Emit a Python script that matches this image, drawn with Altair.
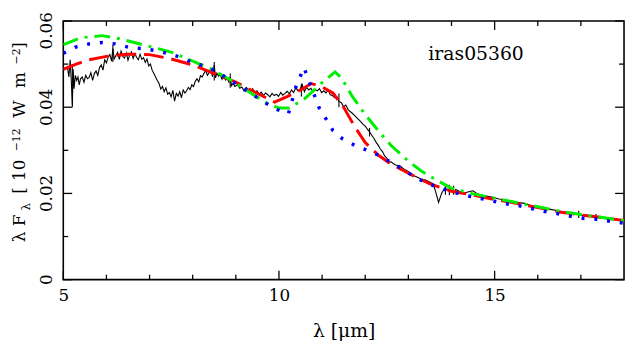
import altair as alt
import pandas as pd

# ---------------- data ----------------
obs_wave_a = [5.10, 5.13, 5.16, 5.19, 5.21, 5.23, 5.25, 5.28, 5.31, 5.34, 5.37, 5.40, 5.44, 5.48, 5.52, 5.56,
              5.60, 5.64, 5.68, 5.72, 5.76, 5.80, 5.84, 5.88, 5.92, 5.96, 6.00, 6.04, 6.08, 6.12, 6.15, 6.18,
              6.22, 6.26, 6.30, 6.34, 6.38, 6.42, 6.46, 6.50, 6.54, 6.58, 6.62, 6.66, 6.70, 6.74, 6.78, 6.82,
              6.86, 6.90, 6.94, 6.98]
obs_flux_a = [0.0490, 0.0470, 0.0510, 0.0452, 0.0405, 0.0488, 0.0443, 0.0474, 0.0462, 0.0470, 0.0452, 0.0466,
              0.0470, 0.0458, 0.0474, 0.0466, 0.0469, 0.0480, 0.0462, 0.0478, 0.0484, 0.0474, 0.0492, 0.0498,
              0.0486, 0.0510, 0.0503, 0.0516, 0.0522, 0.0507, 0.0536, 0.0512, 0.0520, 0.0527, 0.0511, 0.0530,
              0.0518, 0.0514, 0.0526, 0.0509, 0.0521, 0.0528, 0.0513, 0.0524, 0.0516, 0.0510, 0.0523, 0.0511,
              0.0515, 0.0504, 0.0512, 0.0496]

obs_wave_b = [7.02, 7.06, 7.10, 7.14, 7.18, 7.22, 7.26, 7.30, 7.34, 7.38, 7.42, 7.46, 7.50, 7.54, 7.58, 7.62,
              7.66, 7.70, 7.74, 7.78, 7.82, 7.86, 7.90, 7.94, 7.98, 8.02, 8.06, 8.10, 8.14, 8.18, 8.22, 8.26,
              8.30, 8.34, 8.38, 8.42, 8.46, 8.50, 8.53, 8.56, 8.60, 8.64, 8.68, 8.72, 8.76, 8.80, 8.84, 8.87,
              8.90, 8.94, 8.98]
obs_flux_b = [0.0500, 0.0486, 0.0478, 0.0470, 0.0462, 0.0455, 0.0442, 0.0448, 0.0436, 0.0445, 0.0430, 0.0434,
              0.0424, 0.0439, 0.0414, 0.0432, 0.0426, 0.0436, 0.0422, 0.0440, 0.0433, 0.0438, 0.0446, 0.0441,
              0.0452, 0.0448, 0.0460, 0.0466, 0.0459, 0.0473, 0.0470, 0.0478, 0.0486, 0.0474, 0.0480, 0.0485,
              0.0471, 0.0498, 0.0468, 0.0479, 0.0472, 0.0476, 0.0465, 0.0474, 0.0463, 0.0467, 0.0458, 0.0470,
              0.0450, 0.0455, 0.0448]

obs_wave_c = [9.04, 9.09, 9.14, 9.19, 9.24, 9.29, 9.34, 9.39, 9.44, 9.49, 9.54, 9.59, 9.64, 9.69, 9.74, 9.79,
              9.84, 9.89, 9.94, 9.99, 10.04, 10.09, 10.14, 10.19, 10.24, 10.29, 10.34, 10.39, 10.44, 10.49,
              10.54, 10.59, 10.64, 10.69, 10.74, 10.79, 10.84, 10.89, 10.94, 10.99, 11.04, 11.09, 11.14, 11.19,
              11.24, 11.29, 11.34, 11.39]
obs_flux_c = [0.0452, 0.0444, 0.0447, 0.0438, 0.0446, 0.0441, 0.0436, 0.0443, 0.0434, 0.0438, 0.0430, 0.0435,
              0.0427, 0.0433, 0.0429, 0.0424, 0.0432, 0.0427, 0.0430, 0.0425, 0.0434, 0.0428, 0.0432, 0.0437,
              0.0431, 0.0440, 0.0434, 0.0445, 0.0438, 0.0442, 0.0452, 0.0436, 0.0446, 0.0440, 0.0444, 0.0435,
              0.0441, 0.0438, 0.0443, 0.0434, 0.0438, 0.0433, 0.0440, 0.0429, 0.0427, 0.0422, 0.0424, 0.0414]

obs_wave_d = [11.45, 11.50, 11.55, 11.60, 11.65, 11.70, 11.75, 11.80, 11.85, 11.90, 11.95, 12.00, 12.05, 12.10,
              12.15, 12.20, 12.25, 12.30, 12.35, 12.40, 12.45, 12.50, 12.55, 12.60, 12.70, 12.80, 12.90, 13.00,
              13.10, 13.20, 13.30, 13.40, 13.50, 13.58, 13.63, 13.70, 13.77, 13.84, 13.90, 13.95, 14.00, 14.05,
              14.10, 14.20, 14.30, 14.40, 14.50, 14.60, 14.70, 14.80, 14.90, 15.00, 15.10, 15.20, 15.30, 15.40,
              15.50, 15.60, 15.70, 15.80, 15.90, 16.00, 16.10, 16.20, 16.30, 16.40, 16.50, 16.60, 16.70, 16.80,
              16.90, 17.00, 17.10, 17.20, 17.30, 17.40, 17.50, 17.60, 17.70, 17.80, 17.90, 18.00]
obs_flux_d = [0.0410, 0.0401, 0.0405, 0.0395, 0.0390, 0.0386, 0.0381, 0.0376, 0.0371, 0.0366, 0.0360, 0.0356,
              0.0349, 0.0343, 0.0335, 0.0328, 0.0319, 0.0312, 0.0303, 0.0297, 0.0287, 0.0282, 0.0274, 0.0273,
              0.0266, 0.0264, 0.0256, 0.0251, 0.0242, 0.0238, 0.0233, 0.0231, 0.0226, 0.0222, 0.0205, 0.0179,
              0.0200, 0.0212, 0.0208, 0.0205, 0.0213, 0.0201, 0.0209, 0.0204, 0.0201, 0.0204, 0.0206, 0.0199,
              0.0196, 0.0194, 0.0192, 0.0190, 0.0187, 0.0186, 0.0183, 0.0181, 0.0180, 0.0178, 0.0177, 0.0173,
              0.0171, 0.0169, 0.0168, 0.0165, 0.0163, 0.0161, 0.0159, 0.0157, 0.0155, 0.0154, 0.0152, 0.0150,
              0.0148, 0.0147, 0.0146, 0.0144, 0.0143, 0.0141, 0.0140, 0.0139, 0.0137, 0.0135]

# short vertical error bars on the spectrum
err_wave = [5.21, 6.15, 8.50, 8.87, 10.52, 11.39, 12.10, 13.86, 13.95, 14.05, 16.95, 17.35]
err_lo = [0.0400, 0.0505, 0.0462, 0.0445, 0.0425, 0.0400, 0.0332, 0.0197, 0.0196, 0.0197, 0.0143, 0.0140]
err_hi = [0.0500, 0.0545, 0.0505, 0.0478, 0.0455, 0.0432, 0.0352, 0.0222, 0.0220, 0.0218, 0.0160, 0.0152]

# model 1 (red, dashed)
red_wave = [5.0, 5.3, 5.6, 6.0, 6.5, 7.0, 7.5, 8.0, 8.5, 9.0, 9.5, 9.9, 10.2, 10.5, 10.75, 11.0, 11.25,
            11.5, 11.75, 12.0, 12.3, 12.6, 13.0, 13.5, 14.0, 14.5, 15.0, 15.5, 16.0, 16.5, 17.0, 17.5, 18.0]
red_flux = [0.0488, 0.0500, 0.0510, 0.0518, 0.0523, 0.0522, 0.0512, 0.0498, 0.0478, 0.0458, 0.0432, 0.0412,
            0.0425, 0.0440, 0.0455, 0.0447, 0.0433, 0.0400, 0.0356, 0.0318, 0.0289, 0.0268, 0.0247, 0.0222,
            0.0205, 0.0196, 0.0186, 0.0177, 0.0167, 0.0157, 0.0150, 0.0144, 0.0137]

# model 2 (green, dash-dot)
green_wave = [5.0, 5.4, 5.9, 6.3, 6.8, 7.2, 7.5, 8.0, 8.4, 8.9, 9.3, 9.7, 10.0, 10.24, 10.6, 11.0, 11.3,
              11.45, 11.7, 12.0, 12.3, 12.6, 13.0, 13.3, 13.6, 14.0, 14.5, 15.0, 15.5, 16.0, 16.5, 17.0,
              17.5, 18.0]
green_flux = [0.0545, 0.0561, 0.0566, 0.0559, 0.0546, 0.0536, 0.0528, 0.0507, 0.0490, 0.0462, 0.0436, 0.0410,
              0.0398, 0.0398, 0.0420, 0.0457, 0.0482, 0.0468, 0.0425, 0.0383, 0.0346, 0.0311, 0.0275, 0.0252,
              0.0234, 0.0212, 0.0199, 0.0189, 0.0179, 0.0169, 0.0159, 0.0151, 0.0144, 0.0137]

# model 3 (blue, dotted)
blue_wave = [5.0, 5.3, 5.6, 5.9, 6.2, 6.55, 6.85, 7.15, 7.45, 7.75, 8.05, 8.34, 8.8, 9.19, 9.44, 9.69, 9.97,
             10.22, 10.4, 10.58, 10.7, 10.93, 11.09, 11.25, 11.48, 11.75, 12.05, 12.3, 12.6, 12.87, 13.15,
             13.42, 13.67, 14.0, 14.29, 14.59, 14.93, 15.25, 15.55, 15.85, 16.17, 16.47, 16.76, 17.08, 17.38,
             17.68, 18.0]
blue_flux = [0.0525, 0.0540, 0.0547, 0.0550, 0.0547, 0.0538, 0.0536, 0.0531, 0.0524, 0.0515, 0.0501, 0.0495,
             0.0468, 0.0442, 0.0426, 0.0410, 0.0394, 0.0385, 0.0449, 0.0492, 0.0460, 0.0399, 0.0373, 0.0346,
             0.0326, 0.0312, 0.0300, 0.0289, 0.0272, 0.0256, 0.0238, 0.0224, 0.0215, 0.0204, 0.0196, 0.0190,
             0.0183, 0.0176, 0.0172, 0.0165, 0.0158, 0.0153, 0.0147, 0.0142, 0.0140, 0.0135, 0.0131]

x_major = [5, 10, 15]
x_minor = [6, 7, 8, 9, 11, 12, 13, 14, 16, 17]
y_major = [0.0, 0.02, 0.04, 0.06]
y_minor = [0.01, 0.03, 0.05]
y_label_values = [0.0, 0.02, 0.04]
y_label_texts = ["0", "0.02", "0.04"]
y_top_label = "0.06"

label_text = ["iras05360"]
label_x = [14.57]
label_y = [0.0524]

# ---------------- chart ----------------
W, H = 568, 262
FONT = "DejaVu Serif"

xs = alt.Scale(domain=[5, 18], nice=False, zero=False)
ys = alt.Scale(domain=[0, 0.06], nice=False, zero=False)

xax = alt.Axis(values=x_major, ticks=False, domain=False, grid=False, labelFlush=False,
               labelFont=FONT, labelFontSize=17, labelColor="black", labelPadding=8,
               title="λ [μm]", titleFont=FONT, titleFontSize=19, titleFontWeight="normal",
               titleColor="black", titleY=52, titleBaseline="middle")
yax = alt.Axis(values=y_major, ticks=False, domain=False, grid=False, labels=False, title=None)


def X(field):
    return alt.X(field, type="quantitative", scale=xs, axis=xax)


def Y(field):
    return alt.Y(field, type="quantitative", scale=ys, axis=yax)


obs = pd.DataFrame({"w": obs_wave_a + obs_wave_b + obs_wave_c + obs_wave_d,
                    "f": obs_flux_a + obs_flux_b + obs_flux_c + obs_flux_d})
errs = pd.DataFrame({"w": err_wave, "lo": err_lo, "hi": err_hi})
red = pd.DataFrame({"w": red_wave, "f": red_flux})
green = pd.DataFrame({"w": green_wave, "f": green_flux})
blue = pd.DataFrame({"w": blue_wave, "f": blue_flux})

red_line = alt.Chart(red).mark_line(color="#ff0000", strokeWidth=3, strokeDash=[20, 8], clip=True).encode(
    x=X("w"), y=Y("f"))
green_line = alt.Chart(green).mark_line(color="#00ee00", strokeWidth=3, strokeDash=[16, 7, 3, 7], clip=True).encode(
    x=X("w"), y=Y("f"))
blue_line = alt.Chart(blue).mark_line(color="#0000ff", strokeWidth=3.5, strokeDash=[3, 10], clip=True).encode(
    x=X("w"), y=Y("f"))
obs_line = alt.Chart(obs).mark_line(color="black", strokeWidth=1.1, clip=True).encode(
    x=X("w"), y=Y("f"), order="w:Q")
err_rules = alt.Chart(errs).mark_rule(color="black", strokeWidth=1.1).encode(
    x=X("w"), y=Y("lo"), y2="hi")

label = alt.Chart(pd.DataFrame({"x": label_x, "y": label_y, "t": label_text})).mark_text(
    font=FONT, fontSize=19, align="center", baseline="middle", color="black").encode(
    x=X("x"), y=Y("y"), text="t:N")

# y tick labels, rotated
ylab = alt.Chart(pd.DataFrame({"v": y_label_values, "t": y_label_texts})).mark_text(
    font=FONT, fontSize=17, angle=270, align="center", baseline="alphabetic", color="black").encode(
    y=Y("v"), x=alt.value(-11), text="t:N")
ylab_top = alt.Chart(pd.DataFrame({"a": [0]})).mark_text(
    font=FONT, fontSize=17, angle=270, align="right", baseline="alphabetic", color="black").encode(
    y=alt.value(-9), x=alt.value(-11), text=alt.value(y_top_label))

# tick marks drawn inside the frame on all four sides
xmaj = pd.DataFrame({"t": x_major})
xmin = pd.DataFrame({"t": x_minor})
ymaj = pd.DataFrame({"t": y_major})
ymin = pd.DataFrame({"t": y_minor})
tick_layers = []
for df, ln in [(xmaj, 9), (xmin, 5)]:
    tick_layers.append(alt.Chart(df).mark_rule(color="black", strokeWidth=1.3).encode(
        x=X("t"), y=alt.value(H), y2=alt.value(H - ln)))
    tick_layers.append(alt.Chart(df).mark_rule(color="black", strokeWidth=1.3).encode(
        x=X("t"), y=alt.value(0), y2=alt.value(ln)))
for df, ln in [(ymaj, 9), (ymin, 5)]:
    tick_layers.append(alt.Chart(df).mark_rule(color="black", strokeWidth=1.3).encode(
        y=Y("t"), x=alt.value(0), x2=alt.value(ln)))
    tick_layers.append(alt.Chart(df).mark_rule(color="black", strokeWidth=1.3).encode(
        y=Y("t"), x=alt.value(W), x2=alt.value(W - ln)))

# y-axis title built from pieces (sub/superscripts)
one = pd.DataFrame({"a": [0]})
pieces = [("λ", -39, 224, 17), ("F", -39, 208, 17), ("λ", -34, 192, 12), ("[", -39, 175, 17),
          ("10", -39, 162, 17), ("−12", -44, 132, 11), ("W", -39, 98, 17), ("m", -39, 68, 17),
          ("−2", -44, 44, 11), ("]", -39, 28, 17)]
title_layers = []
for txt, px, py, fs in pieces:
    title_layers.append(alt.Chart(one).mark_text(
        font=FONT, fontSize=fs, angle=270, align="left", baseline="alphabetic", color="black").encode(
        x=alt.value(px), y=alt.value(py), text=alt.value(txt)))

chart = alt.layer(
    obs_line, err_rules, red_line, green_line, blue_line, label, ylab, ylab_top, *tick_layers, *title_layers
).properties(
    width=W, height=H,
    padding={"left": 56, "top": 11, "right": 2, "bottom": 61},
    autosize=alt.AutoSizeParams(type="none"),
    background="white",
).configure_view(stroke="black", strokeWidth=1.6)

chart.save("out.html", embed_options={"renderer": "svg", "actions": False})
